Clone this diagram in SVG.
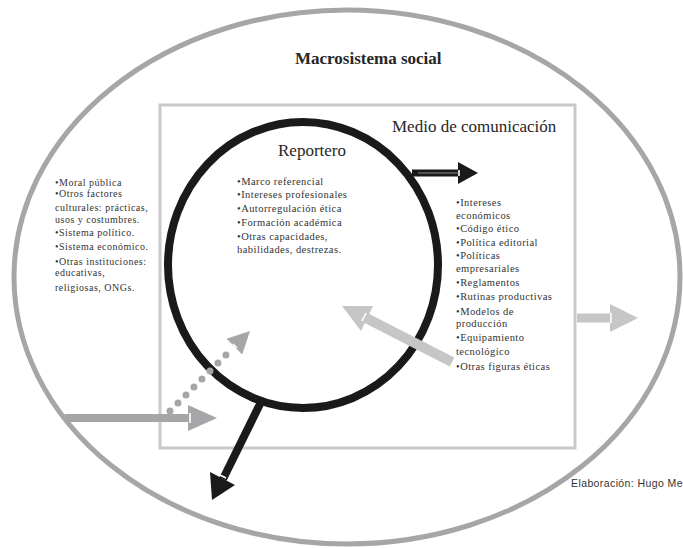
<svg xmlns="http://www.w3.org/2000/svg" width="683" height="548" viewBox="0 0 683 548">
<style>
.serif{font-family:"Liberation Serif","Times New Roman",serif;fill:#262626}
.title{font-size:17px}
.bold{font-weight:bold}
.list{font-size:10.5px;letter-spacing:0.45px;fill:#333}
.listl{font-size:10px;letter-spacing:0.5px;fill:#333}
.credit{font-family:"Liberation Sans",Arial,sans-serif;font-size:10.5px;letter-spacing:0.4px;fill:#333}
.gray{fill:#a6a6a9}
.lgray{fill:#c6c6c6}
.blk{fill:#1a1a1a}
.notch{stroke:#fff;stroke-width:1.6}
</style>
<rect width="683" height="548" fill="#fff"/>

<g id="macrosistema">
  <ellipse cx="347" cy="277" rx="333" ry="267" fill="none" stroke="#a6a6a9" stroke-width="5"/>
  <text class="serif title bold" x="295" y="64">Macrosistema social</text>
</g>

<g id="medio">
  <rect x="160" y="105" width="415" height="343" fill="none" stroke="#c9c9c9" stroke-width="3"/>
  <text class="serif title" x="392" y="132">Medio de comunicación</text>
  <text class="serif list">
    <tspan x="456" y="206">•Intereses</tspan>
    <tspan x="456" y="219">económicos</tspan>
    <tspan x="456" y="232">•Código ético</tspan>
    <tspan x="456" y="246">•Política editorial</tspan>
    <tspan x="456" y="259">•Políticas</tspan>
    <tspan x="456" y="272">empresariales</tspan>
    <tspan x="456" y="286">•Reglamentos</tspan>
    <tspan x="456" y="300">•Rutinas productivas</tspan>
    <tspan x="456" y="315">•Modelos de</tspan>
    <tspan x="456" y="327">producción</tspan>
    <tspan x="456" y="341">•Equipamiento</tspan>
    <tspan x="456" y="355">tecnológico</tspan>
    <tspan x="456" y="370">•Otras figuras éticas</tspan>
  </text>
</g>

<g id="reportero">
  <ellipse cx="303" cy="265" rx="135" ry="143" fill="none" stroke="#1a1a1a" stroke-width="8"/>
  <text class="serif title" x="278" y="156">Reportero</text>
  <text class="serif list">
    <tspan x="237" y="185">•Marco referencial</tspan>
    <tspan x="237" y="198">•Intereses profesionales</tspan>
    <tspan x="237" y="212">•Autorregulación ética</tspan>
    <tspan x="237" y="226">•Formación académica</tspan>
    <tspan x="237" y="240">•Otras capacidades,</tspan>
    <tspan x="237" y="253">habilidades, destrezas.</tspan>
  </text>
</g>

<g id="factores">
  <text class="serif listl">
    <tspan x="55" y="186">•Moral pública</tspan>
    <tspan x="55" y="197">•Otros factores</tspan>
    <tspan x="55" y="211">culturales: prácticas,</tspan>
    <tspan x="55" y="223">usos y costumbres.</tspan>
    <tspan x="55" y="236">•Sistema político.</tspan>
    <tspan x="55" y="250">•Sistema económico.</tspan>
    <tspan x="55" y="265">•Otras instituciones:</tspan>
    <tspan x="55" y="276">educativas,</tspan>
    <tspan x="55" y="291">religiosas, ONGs.</tspan>
  </text>
</g>

<g id="credit">
  <text class="credit" x="571" y="487">Elaboración: Hugo Me</text>
</g>

<g id="connectors">
  <!-- reporter to outside (right, black) -->
  <line x1="412" y1="173" x2="460" y2="173" stroke="#1a1a1a" stroke-width="7"/>
  <line x1="418" y1="173" x2="458" y2="173" stroke="#8a8a8a" stroke-width="1.2"/>
  <polygon class="blk" points="458,162 478,173 458,184"/>
  <line class="notch" x1="459" y1="170" x2="459" y2="176"/>

  <!-- reporter down-left (black) -->
  <line x1="262" y1="400" x2="223" y2="479" stroke="#1a1a1a" stroke-width="8"/>
  <polygon class="blk" points="210,472 212,500 235,485"/>
  <line class="notch" x1="220" y1="475" x2="226" y2="478"/>

  <!-- macro to medio (gray horizontal) -->
  <line x1="65" y1="418" x2="192" y2="418" stroke="#a6a6a9" stroke-width="8"/>
  <polygon class="gray" points="188,405 217,418 188,431"/>
  <line class="notch" x1="190" y1="413" x2="190" y2="423"/>

  <!-- dotted gray arrow to reporter -->
  <line x1="170" y1="411" x2="233" y2="348" stroke="#a6a6a9" stroke-width="7" stroke-linecap="round" stroke-dasharray="0 11.3"/>
  <polygon class="gray" points="226.6,338.8 250,331 242.2,354.4"/>
  <line class="notch" x1="233" y1="344" x2="237" y2="348"/>

  <!-- medio to reporter (light gray up-left) -->
  <line x1="452" y1="362" x2="366" y2="318" stroke="#c6c6c6" stroke-width="10"/>
  <polygon class="lgray" points="373,306 342,306 361,331"/>
  <line class="notch" x1="366" y1="313" x2="362" y2="321"/>

  <!-- medio to macro (light gray right) -->
  <line x1="577" y1="318" x2="612" y2="318" stroke="#c6c6c6" stroke-width="9"/>
  <polygon class="lgray" points="610,304 638,318 610,332"/>
  <line class="notch" x1="611" y1="313" x2="611" y2="323"/>
</g>
</svg>
